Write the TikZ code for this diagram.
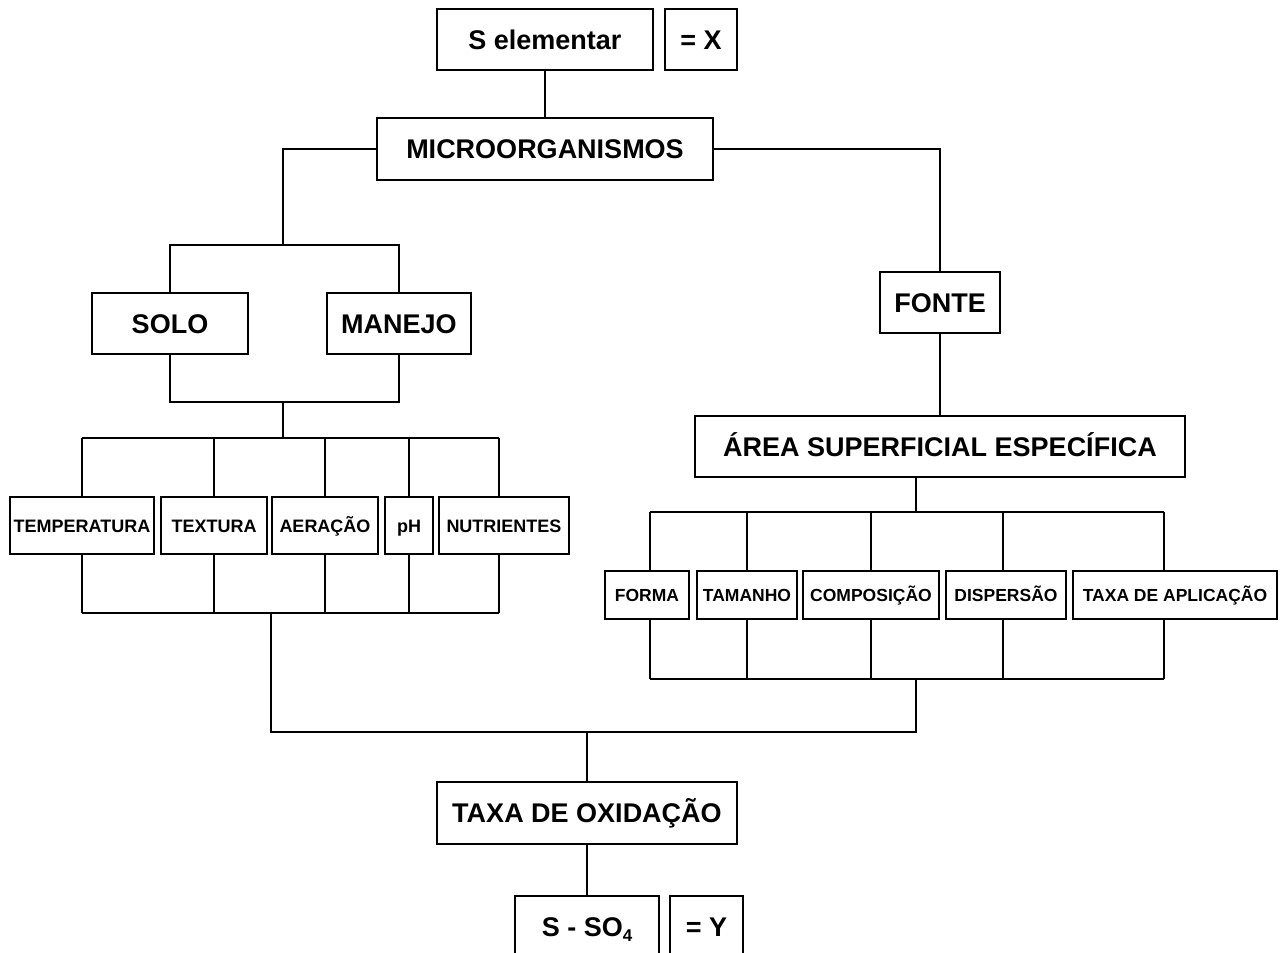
\documentclass[tikz,border=0pt]{standalone}
\usepackage{fontspec}
\setmainfont{Liberation Sans}
\usepackage{tikz}
\usetikzlibrary{calc}

\begin{document}
\begin{tikzpicture}[x=1pt, y=-1pt, line width=1.2pt,
    bigbox/.style={draw, inner sep=0pt, minimum height=61pt, text height=19.4pt, text depth=0pt, font=\fontsize{27}{30}\selectfont\bfseries},
    leftbox/.style={draw, inner sep=0pt, minimum height=57pt, text height=13pt, text depth=0pt, font=\fontsize{18}{20}\selectfont\bfseries},
    rightbox/.style={draw, inner sep=0pt, minimum height=48pt, text height=12.6pt, text depth=0pt, font=\fontsize{17.5}{20}\selectfont\bfseries}]
    \useasboundingbox (0,0) rectangle (1283,953);

    % the top of the tree
    \node[bigbox, minimum width=216pt] (selem) at (545,39.5) {S elementar};
    \node[bigbox, minimum width=72pt] (eqx) at (701,39.5) {= X};
    \node[bigbox, minimum width=336pt, minimum height=62pt] (micro) at (545,149) {MICROORGANISMOS};

    % left branch
    \node[bigbox, minimum width=156pt] (solo) at (170,323.5) {SOLO};
    \node[bigbox, minimum width=144pt] (manejo) at (399,323.5) {MANEJO};
    \node[leftbox, minimum width=144pt] (temp) at (82,525.5) {TEMPERATURA};
    \node[leftbox, minimum width=106pt] (textura) at (214,525.5) {TEXTURA};
    \node[leftbox, minimum width=106pt] (aer) at (325,525.5) {AERAÇÃO};
    \node[leftbox, minimum width=48pt] (ph) at (409,525.5) {pH};
    \node[leftbox, minimum width=130pt] (nutr) at (504,525.5) {NUTRIENTES};

    % right branch
    \node[bigbox, minimum width=120pt] (fonte) at (940,302.5) {FONTE};
    \node[bigbox, minimum width=490pt] (area) at (940,446.5) {ÁREA SUPERFICIAL ESPECÍFICA};
    \node[rightbox, minimum width=84pt] (forma) at (647,595) {FORMA};
    \node[rightbox, minimum width=100pt] (taman) at (747,595) {TAMANHO};
    \node[rightbox, minimum width=136pt] (comp) at (871,595) {COMPOSIÇÃO};
    \node[rightbox, minimum width=120pt] (disp) at (1006,595) {DISPERSÃO};
    \node[rightbox, minimum width=204pt] (taxap) at (1175,595) {TAXA DE APLICAÇÃO};

    % the bottom
    \node[bigbox, minimum width=300pt, minimum height=62pt] (taxox) at (587,813) {TAXA DE OXIDAÇÃO};
    \node[bigbox, minimum width=144pt] (sso4) at (587,926.5) {S - SO\raisebox{-0.35ex}{\fontsize{17}{17}\selectfont 4}};
    \node[bigbox, minimum width=73pt] (eqy) at (706.5,926.5) {= Y};

    % junctions of the lines
    \coordinate (jl1) at (283,245);
    \coordinate (jl2) at (283,402);
    \coordinate (jl3) at (283,438);
    \coordinate (jl4) at (271,613);
    \coordinate (jr1) at (916,512);
    \coordinate (jr2) at (916,679);
    \coordinate (jc) at (587,732);

    % draw the lines
    \draw (selem) -- (micro);
    \draw (micro.west) -| (jl1);
    \draw (solo.north) |- (jl1) -| (manejo.north);
    \draw (solo.south) |- (jl2) -| (manejo.south);
    \draw (jl2) -- (jl3);
    \draw (temp.north |- jl3) -- ([xshift=-5pt]nutr.north |- jl3);
    \draw (temp.north) -- (temp.north |- jl3);
    \draw (textura.north) -- (textura.north |- jl3);
    \draw (aer.north) -- (aer.north |- jl3);
    \draw (ph.north) -- (ph.north |- jl3);
    \draw ([xshift=-5pt]nutr.north) -- ([xshift=-5pt]nutr.north |- jl3);
    \draw (temp.south |- jl4) -- ([xshift=-5pt]nutr.south |- jl4);
    \draw (temp.south) -- (temp.south |- jl4);
    \draw (textura.south) -- (textura.south |- jl4);
    \draw (aer.south) -- (aer.south |- jl4);
    \draw (ph.south) -- (ph.south |- jl4);
    \draw ([xshift=-5pt]nutr.south) -- ([xshift=-5pt]nutr.south |- jl4);

    \draw (micro.east) -| (fonte.north);
    \draw (fonte) -- (area);
    \draw (area.south -| jr1) -- (jr1);
    \draw ([xshift=3pt]forma.north |- jr1) -- ([xshift=-11pt]taxap.north |- jr1);
    \draw ([xshift=3pt]forma.north) -- ([xshift=3pt]forma.north |- jr1);
    \draw (taman.north) -- (taman.north |- jr1);
    \draw (comp.north) -- (comp.north |- jr1);
    \draw ([xshift=-3pt]disp.north) -- ([xshift=-3pt]disp.north |- jr1);
    \draw ([xshift=-11pt]taxap.north) -- ([xshift=-11pt]taxap.north |- jr1);
    \draw ([xshift=3pt]forma.south |- jr2) -- ([xshift=-11pt]taxap.south |- jr2);
    \draw ([xshift=3pt]forma.south) -- ([xshift=3pt]forma.south |- jr2);
    \draw (taman.south) -- (taman.south |- jr2);
    \draw (comp.south) -- (comp.south |- jr2);
    \draw ([xshift=-3pt]disp.south) -- ([xshift=-3pt]disp.south |- jr2);
    \draw ([xshift=-11pt]taxap.south) -- ([xshift=-11pt]taxap.south |- jr2);

    \draw (jl4) |- (jc) -| (jr2);
    \draw (jc) -- (taxox.north);
    \draw (taxox) -- (sso4);
\end{tikzpicture}
\end{document}
